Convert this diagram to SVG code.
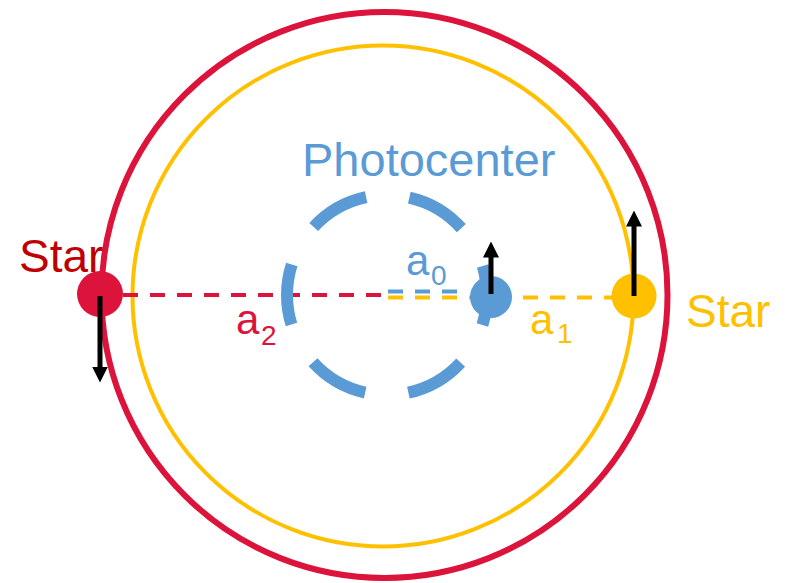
<svg xmlns="http://www.w3.org/2000/svg" width="785" height="583" viewBox="0 0 785 583">
  <style>
    .orbit { fill: none; }
    .lbl { font-family: "Liberation Sans", Arial, sans-serif; }
    .vec { stroke: #000; stroke-width: 5; fill: none; marker-end: url(#head); }
    .dash { fill: none; stroke-width: 4; stroke-dasharray: 15 12; }
  </style>
  <defs>
    <marker id="head" markerUnits="userSpaceOnUse" viewBox="0 -8 16 16" markerWidth="16" markerHeight="16" refX="0.5" refY="0" orient="auto">
      <path d="M0,-8 L16,0 L0,8 z" fill="#000"/>
    </marker>
  </defs>
  <rect width="785" height="583" fill="#fff"/>

  <g id="orbit-star2">
    <circle class="orbit" cx="384.5" cy="295" r="283" stroke="#DC143C" stroke-width="6"/>
  </g>
  <g id="orbit-star1">
    <circle class="orbit" cx="383" cy="296" r="250.5" stroke="#FFC000" stroke-width="4"/>
  </g>

  <g id="connectors">
    <line class="dash" x1="123" y1="295" x2="388" y2="295" stroke="#DC143C"/>
    <line class="dash" x1="388" y1="291.5" x2="460" y2="291.5" stroke="#5B9BD5" stroke-width="3"/>
    <line class="dash" x1="388" y1="297.5" x2="612" y2="297.5" stroke="#FFC000" stroke-width="3"/>
  </g>

  <g id="photocenter-orbit">
    <circle class="orbit" cx="387" cy="295" r="100" stroke="#5B9BD5" stroke-width="12" stroke-dasharray="61.09 43.63" stroke-dashoffset="30.54"/>
  </g>

  <g id="star2">
    <circle cx="100" cy="294" r="23" fill="#DC143C"/>
    <line class="vec" x1="100" y1="296" x2="100" y2="367"/>
    <text class="lbl" x="19" y="272" font-size="46" fill="#C00000">Star</text>
  </g>

  <g id="star1">
    <circle cx="634" cy="296" r="22.5" fill="#FFC000"/>
    <line class="vec" x1="634" y1="296" x2="634" y2="226"/>
    <text class="lbl" x="686" y="327" font-size="46" fill="#FFC000">Star</text>
  </g>

  <g id="photocenter">
    <circle cx="491" cy="297" r="21" fill="#5B9BD5"/>
    <line class="vec" x1="491" y1="294" x2="491" y2="257"/>
    <text class="lbl" x="302" y="176" font-size="47" fill="#5B9BD5">Photocenter</text>
  </g>

  <g id="labels">
    <text class="lbl" x="406" y="275" font-size="42" fill="#5B9BD5">a<tspan x="431" y="285" font-size="28">0</tspan></text>
    <text class="lbl" x="530" y="334" font-size="42" fill="#FFC000">a<tspan x="557" y="343" font-size="28">1</tspan></text>
    <text class="lbl" x="236" y="334" font-size="42" fill="#DC143C">a<tspan x="261" y="345" font-size="28">2</tspan></text>
  </g>
</svg>
